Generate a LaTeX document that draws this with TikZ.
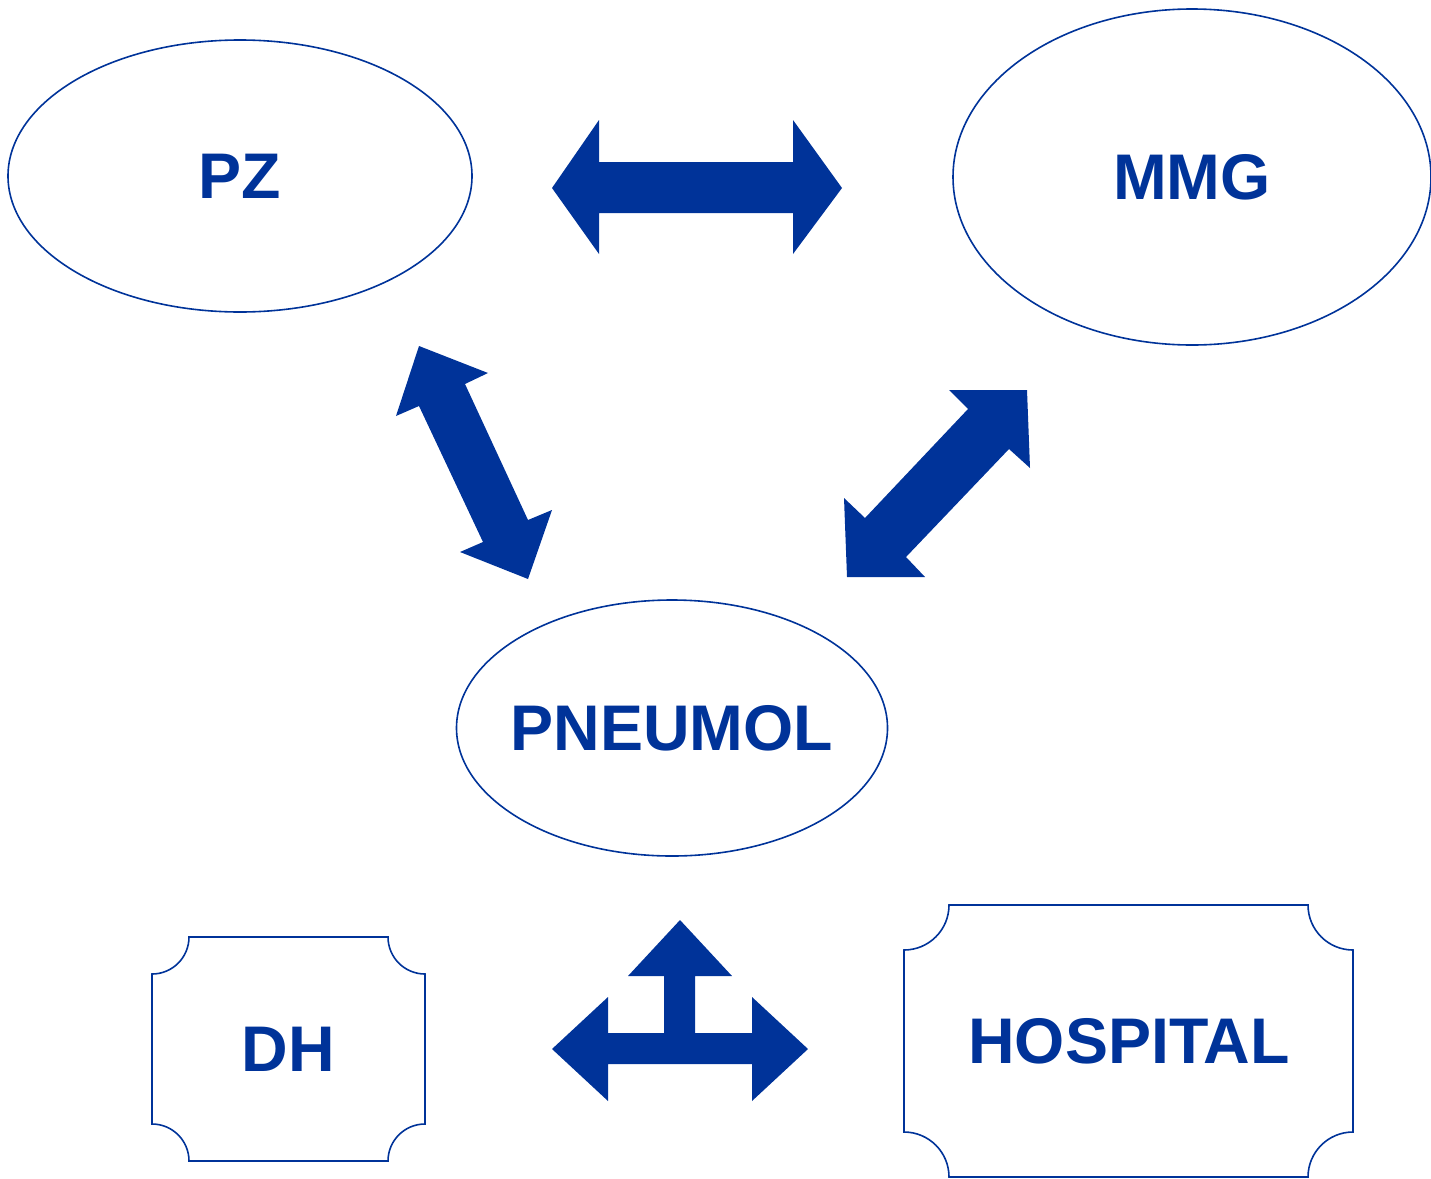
\documentclass[tikz,border=0pt]{standalone}
\usepackage{fontspec}
\setmainfont{Liberation Sans}
\usetikzlibrary{shapes.geometric}
\definecolor{dblue}{RGB}{0,51,153}
\tikzset{
  lbl/.style={text=dblue, font=\fontsize{64.5}{76}\selectfont\bfseries, inner sep=0pt},
  ell/.style={ellipse, draw=dblue, line width=1.6pt, inner sep=0pt, lbl},
  boxline/.style={draw=dblue, line width=1.6pt},
  blockarrow/.style={fill=dblue, draw=none}
}
\newcommand{\myconcave}[5]{%
  \draw[boxline] ({#1+#5},#2) -- ({#3-#5},#2) arc (180:270:#5pt)
    -- (#3,{#4+#5}) arc (90:180:#5pt)
    -- ({#1+#5},#4) arc (0:90:#5pt)
    -- (#1,{#2-#5}) arc (270:360:#5pt) -- cycle;}
\begin{document}
\begin{tikzpicture}[x=1pt,y=1pt]
\useasboundingbox (0,0) rectangle (1431,-1178);
% ellipses
\node[ell, minimum width=464pt, minimum height=272pt] (pz) at (240,-176) {\makebox[0pt]{PZ}};
\node[ell, minimum width=478pt, minimum height=336pt] (mmg) at (1192,-177) {\makebox[0pt]{MMG}};
\node[ell, minimum width=431pt, minimum height=256pt] (pn) at (672,-728) {\makebox[0pt]{PNEUMOL}};
% boxes
\myconcave{152}{-937}{425}{-1161}{37}
\myconcave{904}{-905}{1353}{-1177}{45}
\node[lbl] (dh) at (288.5,-1049) {DH};
\node[lbl] (hosp) at (1129,-1041) {HOSPITAL};
% block arrows
\fill[blockarrow] (552,-188) -- (599,-120) -- (599,-162) -- (793,-162) -- (793,-120)
  -- (842,-188) -- (793,-254) -- (793,-213) -- (599,-213) -- (599,-254) -- cycle;
\fill[blockarrow] (419,-346) -- (488,-373) -- (465,-384) -- (528,-520) -- (552,-510)
  -- (528,-579) -- (460,-552) -- (483,-542) -- (419,-406) -- (396,-416) -- cycle;
\fill[blockarrow] (949,-390) -- (1027,-390) -- (1030,-468) -- (1009,-449) -- (906,-557)
  -- (925,-577) -- (847,-577) -- (844,-498) -- (865,-518) -- (968,-409) -- cycle;
\fill[blockarrow] (680,-920) -- (732,-976) -- (695,-976) -- (695,-1033) -- (752,-1033)
  -- (752,-997) -- (808,-1049) -- (752,-1101) -- (752,-1064) -- (608,-1064)
  -- (608,-1101) -- (552,-1049) -- (608,-997) -- (608,-1033) -- (664,-1033)
  -- (664,-976) -- (628,-976) -- cycle;
\end{tikzpicture}
\end{document}
